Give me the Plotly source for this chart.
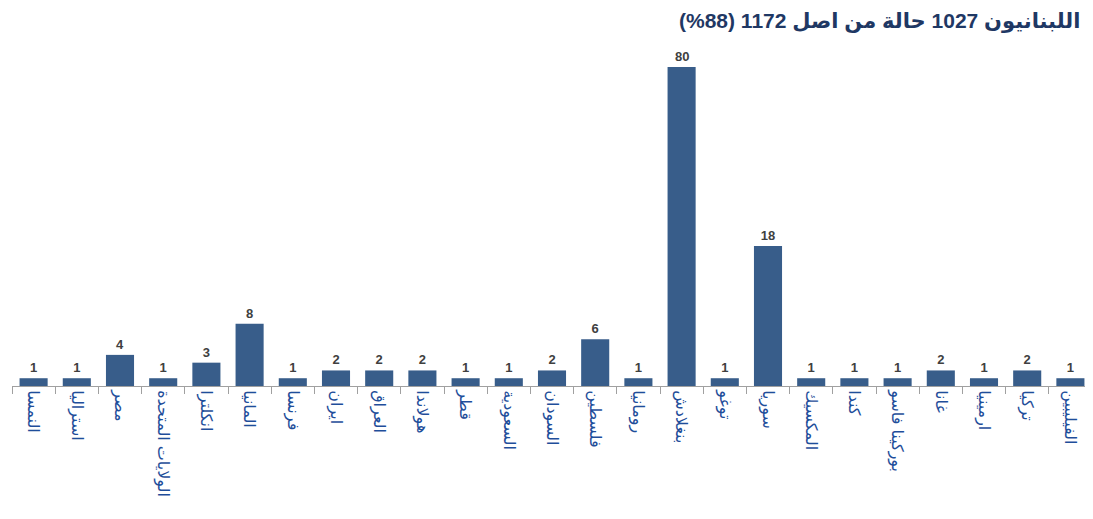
import plotly.graph_objects as go

categories = ["النمسا", "استراليا", "مصر", "الولايات المتحدة", "انكلترا", "المانيا",
              "فرنسا", "ايران", "العراق", "هولاندا", "قطر", "السعودية", "السودان",
              "فلسطين", "رومانيا", "بنغلادش", "توغو", "سوريا", "المكسيك", "كندا",
              "بوركينا فاسو", "غانا", "ارمينيا", "تركيا", "الفيليبين"]
values = [1, 1, 4, 1, 3, 8, 1, 2, 2, 2, 1, 1, 2, 6, 1, 80, 1, 18, 1, 1, 1, 2, 1, 2, 1]
title_text = "اللبنانيون 1027 حالة من اصل 1172 (88%)"
y_max = 41

bar_color = "#385D8A"
label_color = "#1F4E9A"

texts = ["<b>%d</b>" % v if v <= y_max else "" for v in values]

fig = go.Figure(go.Bar(
    x=categories, y=values, text=texts, textposition="outside",
    textfont=dict(family="Liberation Sans, DejaVu Sans", size=13, color="#404040"),
    marker=dict(color=bar_color, line=dict(width=0)),
    width=0.65, cliponaxis=False,
))

annotations = []
for c, v in zip(categories, values):
    if v > y_max:
        annotations.append(dict(x=c, y=y_max, xref="x", yref="y", text="<b>%d</b>" % v,
                                showarrow=False, yanchor="bottom", yshift=1,
                                font=dict(family="Liberation Sans, DejaVu Sans", size=13, color="#404040")))
annotations.append(dict(x=0.99, y=1 + 59 / 319, xref="paper", yref="paper", text="<b>" + title_text + "</b>",
                        showarrow=False, xanchor="right", yanchor="top", borderpad=0,
                        font=dict(family="Liberation Sans, DejaVu Sans", size=21, color="#1F3864")))

fig.update_layout(
    width=1085, height=511,
    margin=dict(l=4, r=1, t=59, b=133, autoexpand=False),
    paper_bgcolor="white", plot_bgcolor="white",
    showlegend=False, annotations=annotations,
    bargap=0.35,
)
fig.update_xaxes(
    type="category", tickangle=90, tickson="boundaries", ticks="outside", ticklen=7,
    tickcolor="#A0A0A0", showline=True, linecolor="#A0A0A0", linewidth=1,
    tickfont=dict(family="DejaVu Sans", size=16, color=label_color),
    showgrid=False, automargin=False,
)
fig.update_yaxes(range=[0, y_max], visible=False, showgrid=False, automargin=False)

fig.write_html("out.html")
